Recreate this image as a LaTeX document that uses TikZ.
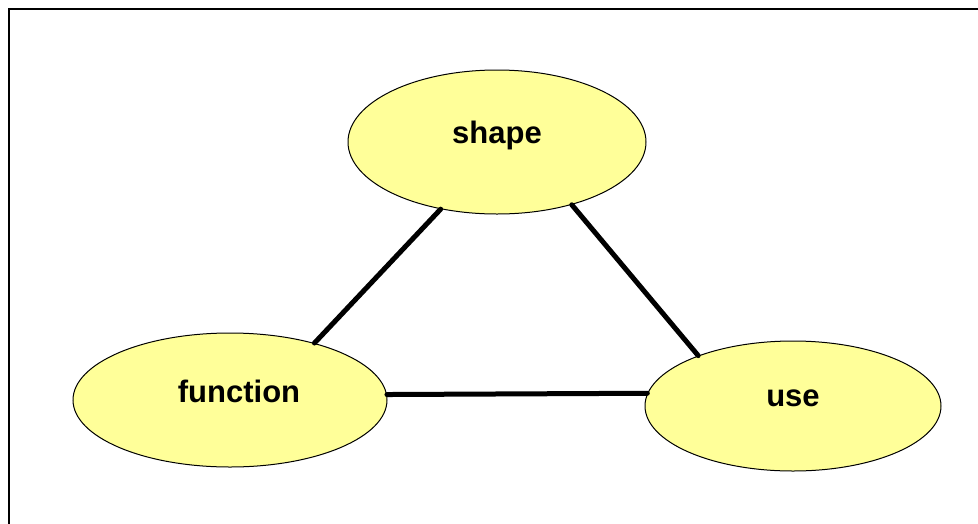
\documentclass[tikz,border=0pt]{standalone}
\usepackage{fontspec}
\setmainfont{Liberation Sans}
\usepackage{tikz}
\usetikzlibrary{shapes.geometric}
\definecolor{paleyellow}{RGB}{255,255,153}

\begin{document}
\begin{tikzpicture}[x=1pt,y=-1pt,
  blob/.style={ellipse,draw=black,line width=1pt,fill=paleyellow,inner sep=0pt},
  word/.style={font=\fontsize{31}{37}\selectfont\bfseries,text height=0pt,text depth=0pt,inner sep=0pt},
  link/.style={line width=5pt,line cap=round}]
\useasboundingbox (0,0) rectangle (978,523);
\clip (0,0) rectangle (978,523);
\draw[line width=2pt] (9,9) rectangle (995,540);
\node[blob,minimum width=298pt,minimum height=144pt,label={[word,yshift=-1pt]center:shape}] (shape) at (497,142) {};
\node[blob,minimum width=314pt,minimum height=134pt,label={[word,xshift=9pt,yshift=-2pt]center:function}] (function) at (230,400) {};
\node[blob,minimum width=296pt,minimum height=130pt,label={[word]center:use}] (use) at (793,406) {};
\draw[link] (shape.230) -- (function.34);
\draw[link] (shape.320) -- (use.152);
\draw[link] (function.2) -- (use.175.6);
\end{tikzpicture}
\end{document}
